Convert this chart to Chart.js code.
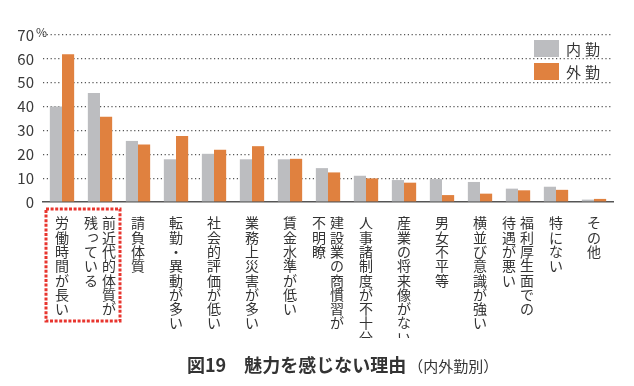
<!DOCTYPE html>
<html lang="ja">
<head>
<meta charset="utf-8">
<script src="https://cdn.jsdelivr.net/npm/chart.js@4.4.1/dist/chart.umd.min.js"></script>
<style>
body { margin: 0; background: #fff; }
#wrap { width: 634px; height: 386px; }
</style>
</head>
<body>
<div id="wrap"><canvas id="grafico" width="634" height="386"></canvas></div>
<script>
// categorias: cada item = colunas de texto vertical (da direita para a esquerda)
var categorias = [
    ["労働時間が長い"],
    ["前近代的体質が", "残っている"],
    ["請負体質"],
    ["転勤・異動が多い"],
    ["社会的評価が低い"],
    ["業務上災害が多い"],
    ["賃金水準が低い"],
    ["建設業の商慣習が", "不明瞭"],
    ["人事諸制度が不十分"],
    ["産業の将来像がない"],
    ["男女不平等"],
    ["横並び意識が強い"],
    ["福利厚生面での", "待遇が悪い"],
    ["特にない"],
    ["その他"]
];
var valoresNaikin = [40.0, 45.7, 25.6, 17.9, 20.2, 17.9, 17.9, 14.2, 11.0, 9.2, 9.6, 8.4, 5.6, 6.4, 1.0];
var valoresGaikin = [61.9, 35.7, 24.1, 27.7, 21.9, 23.4, 18.1, 12.4, 9.9, 8.1, 2.9, 3.5, 4.9, 5.1, 1.3];
var ticksY = [0, 10, 20, 30, 40, 50, 60, 70];
var legendas = ["内勤", "外勤"];
var cores = ["#bcbdc0", "#e0813f"];
var titulo = "図19　魅力を感じない理由";
var subtitulo = "（内外勤別）";

var FONTE = '"Noto Sans CJK JP", "Noto Sans", sans-serif';
var pequenos = "っゃゅょぁぃぅぇぉ";

var desenhoExtra = {
    id: 'desenhoExtra',
    afterDraw: function (chart) {
        var ctx = chart.ctx;
        var x = chart.scales.x, y = chart.scales.y;
        var area = chart.chartArea;

        // "%" ao lado do 70
        ctx.save();
        ctx.fillStyle = '#3a3a3a';
        ctx.font = '12px ' + FONTE;
        ctx.textAlign = 'left';
        ctx.textBaseline = 'middle';
        ctx.fillText('%', area.left - 7, y.getPixelForValue(ticksY[ticksY.length - 1]) - 3);
        ctx.restore();

        // rotulos verticais do eixo x
        ctx.save();
        ctx.beginPath();
        ctx.rect(0, area.bottom + 1, chart.width, 337 - area.bottom);
        ctx.clip();
        ctx.fillStyle = '#333';
        ctx.font = '14px ' + FONTE;
        ctx.textAlign = 'center';
        ctx.textBaseline = 'middle';
        var topo = area.bottom + 21;
        categorias.forEach(function (colunas, i) {
            var cx = x.getPixelForValue(i);
            var n = colunas.length;
            colunas.forEach(function (texto, k) {
                var colX = cx + ((n - 1) / 2 - k) * 18;
                Array.from(texto).forEach(function (ch, j) {
                    var dx = 0, dy = 0;
                    if (pequenos.indexOf(ch) >= 0) { dx = 2; dy = -2; }
                    ctx.fillText(ch, colX + dx, topo + j * 14.3 + dy);
                });
            });
        });
        ctx.restore();

        // caixa vermelha pontilhada em volta das duas primeiras categorias
        ctx.save();
        ctx.strokeStyle = '#e8352e';
        ctx.lineWidth = 3;
        ctx.setLineDash([3, 1.6]);
        var bx1 = x.getPixelForValue(0) - 16;
        var bx2 = x.getPixelForValue(1) + 20;
        ctx.strokeRect(bx1, area.bottom + 7, bx2 - bx1, 112);
        ctx.restore();

        // legenda
        ctx.save();
        ctx.font = '15px ' + FONTE;
        ctx.textAlign = 'left';
        ctx.textBaseline = 'middle';
        if ('letterSpacing' in ctx) ctx.letterSpacing = '4px';
        chart.data.datasets.forEach(function (ds, i) {
            var ly = 40 + i * 23;
            ctx.fillStyle = ds.backgroundColor;
            ctx.fillRect(534, ly, 25, 17);
            ctx.fillStyle = '#333';
            ctx.fillText(ds.label, 566, ly + 9);
        });
        ctx.restore();

        // titulo
        ctx.save();
        ctx.fillStyle = '#333';
        ctx.textBaseline = 'middle';
        ctx.textAlign = 'left';
        ctx.font = 'bold 18px ' + FONTE;
        ctx.fillText(titulo, 187, 365);
        var w = ctx.measureText(titulo).width;
        ctx.font = '15px ' + FONTE;
        ctx.fillText(subtitulo, 187 + w + 2, 366);
        ctx.restore();
    }
};

var ctxGrafico = document.getElementById("grafico");
var grafico = new Chart(ctxGrafico, {
    type: 'bar',
    data: {
        labels: categorias.map(function (c) { return c.join(''); }),
        datasets: [
            { label: legendas[0], data: valoresNaikin, backgroundColor: cores[0] },
            { label: legendas[1], data: valoresGaikin, backgroundColor: cores[1] }
        ]
    },
    options: {
        responsive: false,
        animation: false,
        layout: { padding: { top: 35, right: 21, left: 0, bottom: 0 } },
        datasets: { bar: { categoryPercentage: 0.64, barPercentage: 1.0 } },
        plugins: {
            legend: { display: false },
            tooltip: { enabled: false }
        },
        scales: {
            x: {
                grid: { display: false },
                border: { display: true, color: '#555', width: 1.5 },
                ticks: { display: false },
                afterFit: function (s) { s.height = 184; }
            },
            y: {
                min: 0,
                max: 70,
                afterBuildTicks: function (s) {
                    s.ticks = ticksY.map(function (v) { return { value: v }; });
                },
                grid: {
                    drawTicks: false,
                    lineWidth: 1.2,
                    color: function (c) { return c.tick && c.tick.value === 0 ? 'rgba(0,0,0,0)' : '#555'; }
                },
                border: { display: false, dash: [1.2, 2.6] },
                ticks: {
                    padding: 9,
                    color: '#3a3a3a',
                    font: { size: 15, family: FONTE }
                },
                afterFit: function (s) { s.width = 43; }
            }
        }
    },
    plugins: [desenhoExtra]
});
</script>
</body>
</html>
